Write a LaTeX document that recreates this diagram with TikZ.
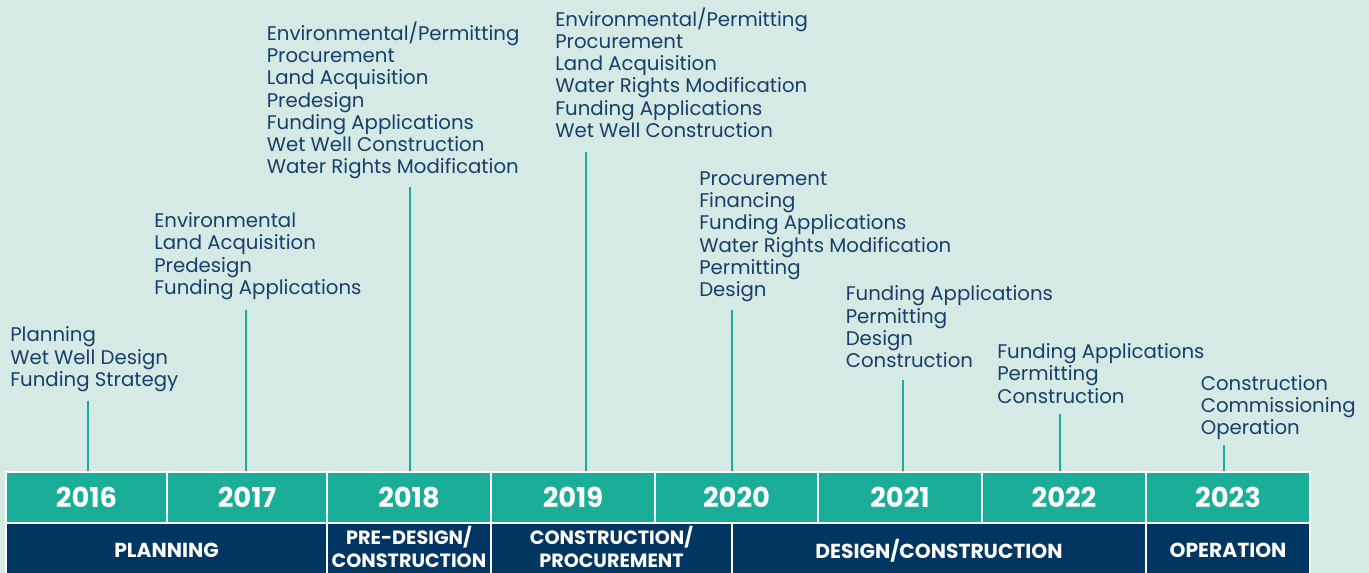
\documentclass[tikz,border=0pt]{standalone}
\usepackage{fontspec}
\setmainfont{Poppins}
\definecolor{bgmint}{HTML}{D5EAE4}
\definecolor{yearteal}{HTML}{1AAE98}
\definecolor{phasenavy}{HTML}{003661}
\definecolor{taskblue}{HTML}{173F6B}
\tikzset{
  yearbox/.style={draw=white, line width=1.5pt, fill=yearteal, text=white,
    font=\fontsize{20.5}{24}\selectfont\bfseries, minimum height=51*0.75pt, inner sep=0pt},
  phasebox/.style={draw=white, line width=1.5pt, fill=phasenavy, text=white, align=center,
    font=\fontsize{15.2}{17.6}\selectfont\bfseries, minimum height=56*0.75pt, inner sep=0pt},
  phasetwo/.style={text=white, align=center, inner sep=0pt,
    font=\fontsize{14.4}{17}\selectfont\bfseries},
  tasks/.style={anchor=north west, inner sep=0pt, align=left, text=taskblue,
    font=\fontsize{14.8}{16.7}\selectfont},
  stem/.style={draw=yearteal, line width=1.5pt}
}
\begin{document}
\begin{tikzpicture}[x=0.75pt, y=-0.75pt]
\useasboundingbox (0,0) rectangle (1369,573);
\clip (0,0) rectangle (1369,573);
\fill[bgmint] (0,0) rectangle (1369,573);

\foreach \yr/\xa/\xb in {2016/6/167, 2017/167/327, 2018/327/491, 2019/491/655,
                         2020/655/818, 2021/818/982, 2022/982/1146, 2023/1146/1310}
  \node[yearbox, minimum width={(\xb-\xa)*0.75pt}] (y\yr) at ({(\xa+\xb)/2},497) {\yr};

\node[phasebox, minimum width=321*0.75pt] (planning) at (166.5,550.5) {PLANNING};
\node[phasebox, minimum width=164*0.75pt] (predesign) at (409,550.5) {};
\node[phasebox, minimum width=241*0.75pt] (procure) at (611.5,550.5) {};
\node[phasebox, minimum width=414*0.75pt] (design) at (939,550.5) {DESIGN/CONSTRUCTION};
\node[phasebox, minimum width=164*0.75pt] (operation) at (1228,550.5) {OPERATION};
\node[phasetwo] (predesignlbl) at (409,547) {PRE-DESIGN/\\CONSTRUCTION};
\node[phasetwo] (procurelbl) at (611.5,547) {CONSTRUCTION/\\PROCUREMENT};

\node[tasks] (t2016) at (10,326) {\strut Planning\\Wet Well Design\\Funding Strategy};
\node[tasks] (t2017) at (154,211.7) {\strut Environmental\\Land Acquisition\\Predesign\\Funding Applications};
\node[tasks] (t2018) at (266.5,21.5) {\strut Environmental/Permitting\\Procurement\\Land Acquisition\\Predesign\\Funding Applications\\Wet Well Construction\\Water Rights Modification};
\node[tasks] (t2019) at (555,7.2) {\strut Environmental/Permitting\\Procurement\\Land Acquisition\\Water Rights Modification\\Funding Applications\\Wet Well Construction};
\node[tasks] (t2020) at (699,169.4) {\strut Procurement\\Financing\\Funding Applications\\Water Rights Modification\\Permitting\\Design};
\node[tasks] (t2021) at (845.5,285) {\strut Funding Applications\\Permitting\\Design\\Construction};
\node[tasks] (t2022) at (997,342.7) {\strut Funding Applications\\Permitting\\Construction};
\node[tasks] (t2023) at (1200.5,374.4) {\strut Construction\\Commissioning\\Operation};

\coordinate (s2016) at (88,400.7);
\coordinate (s2017) at (246,310);
\coordinate (s2018) at (410,187);
\coordinate (s2019) at (585.7,152);
\coordinate (s2020) at (731.7,310);
\coordinate (s2021) at (903.3,380);
\coordinate (s2022) at (1060,414);
\coordinate (s2023) at (1224,445);
\foreach \yr in {2016,...,2023}
  \draw[stem] (s\yr) -- (s\yr |- y\yr.north);
\end{tikzpicture}
\end{document}
